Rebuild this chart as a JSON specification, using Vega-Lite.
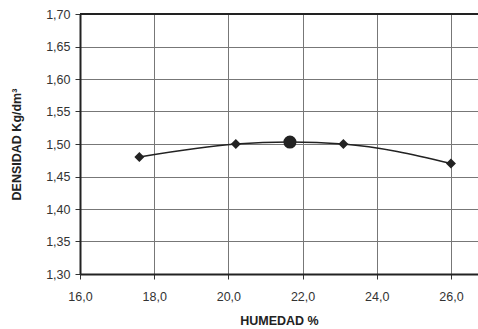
{
  "$schema": "https://vega.github.io/schema/vega-lite/v6.json",
  "autosize": "none",
  "padding": {"left": 80, "top": 14, "right": 0, "bottom": 55},
  "width": 398,
  "height": 260,
  "background": "white",
  "config": {
    "view": {"stroke": null},
    "font": "Liberation Sans",
    "axis": {
      "labelFont": "Liberation Sans",
      "labelFontSize": 12.5,
      "labelColor": "#333",
      "labelOverlap": false,
      "labelFlush": false,
      "titleFont": "Liberation Sans",
      "titleFontSize": 12.5,
      "titleFontWeight": "bold",
      "titleColor": "#222",
      "gridColor": "#777",
      "gridWidth": 1,
      "gridOpacity": 1,
      "domainColor": "#222",
      "domainWidth": 2,
      "tickColor": "#333",
      "tickSize": 5
    }
  },
  "datasets": {
    "pts": [
      {"h": 17.6, "d": 1.48},
      {"h": 20.2, "d": 1.50},
      {"h": 23.1, "d": 1.50},
      {"h": 26.0, "d": 1.47}
    ],
    "curve": [
      {"h": 17.6, "d": 1.48},
      {"h": 20.2, "d": 1.50},
      {"h": 21.66, "d": 1.503},
      {"h": 23.1, "d": 1.50},
      {"h": 26.0, "d": 1.47}
    ],
    "max": [{"h": 21.66, "d": 1.503}],
    "border": [{"h": 16, "h2": 26.73, "d": 1.7}]
  },
  "encoding": {
    "x": {
      "field": "h", "type": "quantitative",
      "scale": {"domain": [16, 26.73], "nice": false, "zero": false},
      "axis": {
        "values": [16, 18, 20, 22, 24, 26],
        "labelExpr": "replace(format(datum.value, '.1f'), '.', ',')",
        "title": "HUMEDAD %",
        "titlePadding": 12,
        "labelPadding": 11
      }
    },
    "y": {
      "field": "d", "type": "quantitative",
      "scale": {"domain": [1.3, 1.7], "nice": false, "zero": false},
      "axis": {
        "values": [1.3, 1.35, 1.4, 1.45, 1.5, 1.55, 1.6, 1.65, 1.7],
        "labelExpr": "replace(format(datum.value, '.2f'), '.', ',')",
        "title": "DENSIDAD Kg/dm³",
        "titlePadding": 22,
        "labelPadding": 5
      }
    }
  },
  "layer": [
    {
      "data": {"name": "curve"},
      "mark": {"type": "line", "interpolate": "monotone", "color": "#222", "strokeWidth": 1.6}
    },
    {
      "data": {"name": "pts"},
      "mark": {"type": "point", "shape": "diamond", "filled": true, "color": "#222", "size": 100, "opacity": 1}
    },
    {
      "data": {"name": "max"},
      "mark": {"type": "point", "shape": "circle", "filled": true, "color": "#222", "size": 170, "opacity": 1}
    },
    {
      "data": {"name": "border"},
      "mark": {"type": "rule", "color": "#222", "strokeWidth": 2},
      "encoding": {"x2": {"field": "h2"}}
    }
  ]
}
